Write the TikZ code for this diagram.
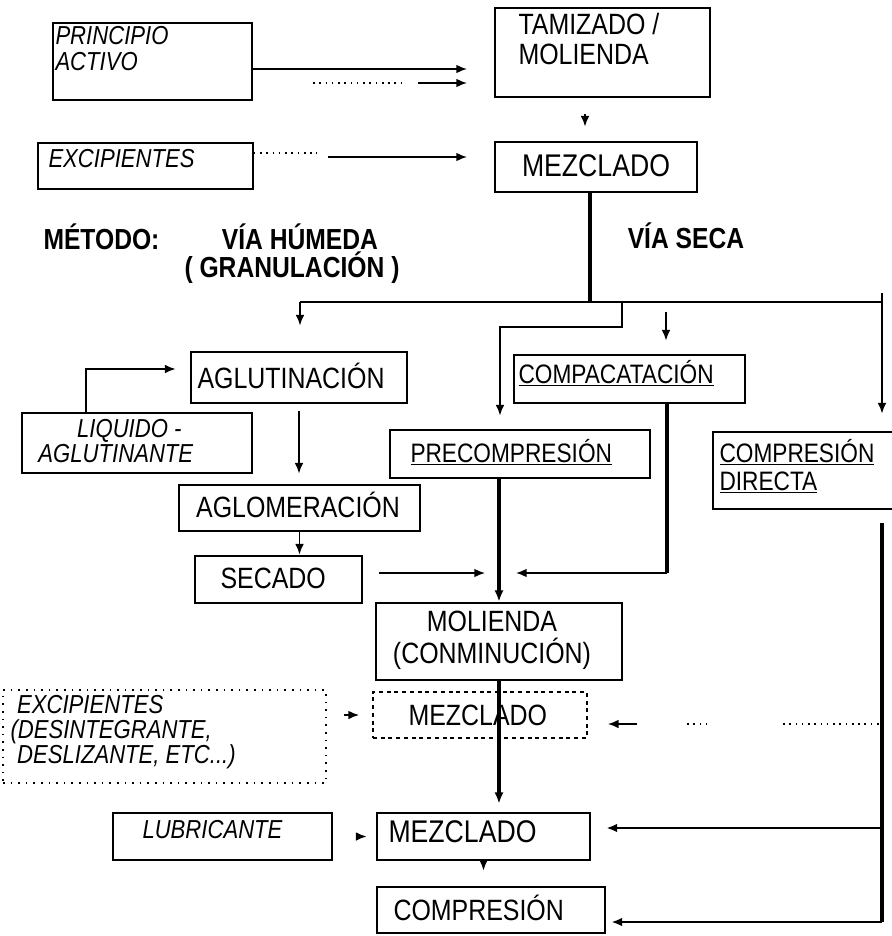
\documentclass[tikz,border=0pt]{standalone}
\usepackage{fontspec}
\setmainfont{Liberation Sans}[FakeStretch=0.85]
\usetikzlibrary{arrows.meta,fit}

\tikzset{
	box/.style={draw, inner sep=0pt, line width=2.1pt},
	thinbox/.style={draw, inner sep=0pt, line width=1.2pt},
	dotbox/.style={draw, inner sep=0pt, line width=1.3pt, dash pattern=on 1.2pt off 4.5pt},
	dashbox/.style={draw, inner sep=0pt, line width=1.4pt, dash pattern=on 3pt off 2.8pt},
	txt/.style={inner sep=0pt, font=\fontsize{22}{22.5}\selectfont},
	itxt/.style={inner sep=0pt, font=\itshape\fontsize{19.5}{19.5}\selectfont},
	utxt/.style={inner sep=0pt, font=\fontsize{20}{21}\selectfont},
	btxt/.style={inner sep=0pt, font=\bfseries\fontsize{21.75}{23}\selectfont},
	arr/.style={-{Latex[length=8pt,width=6.5pt]}, line width=1.2pt},
	thickarr/.style={-{Latex[length=8.5pt,width=7pt]}, line width=2.3pt},
	heavyline/.style={line width=2.3pt},
	dotline/.style={line width=1.2pt, dash pattern=on 1.2pt off 3.5pt}}
\tikzset{every picture/.style={line width=0.75pt}}

\begin{document}
\begin{tikzpicture}[x=0.75pt,y=0.75pt,yscale=-1,xscale=1]
	\useasboundingbox (0,0) rectangle (892,936);

	%Shape: Rectangle
	\node [thinbox, fit={(53,23) (252,100)}] (pa) {};
	%Shape: Rectangle
	\node [box, fit={(495,8) (710,97)}] (tm) {};
	%Shape: Rectangle
	\node [thinbox, fit={(38,143) (253,189)}] (ex) {};
	%Shape: Rectangle
	\node [box, fit={(495,142) (697,192)}] (mz1) {};
	%Shape: Rectangle
	\node [box, fit={(191,352) (407,403)}] (ag) {};
	%Shape: Rectangle
	\node [thinbox, fit={(22,413) (252,473)}] (lq) {};
	%Shape: Rectangle
	\node [box, fit={(514,355) (745,403)}] (cp) {};
	%Shape: Rectangle
	\node [box, fit={(390,430) (650,478)}] (pc) {};
	%Shape: Rectangle
	\node [box, fit={(713,432) (905,509)}] (cd) {};
	%Shape: Rectangle
	\node [box, fit={(179,485) (420,531)}] (ao) {};
	%Shape: Rectangle
	\node [box, fit={(195,556) (362,603)}] (sc) {};
	%Shape: Rectangle
	\node [box, fit={(376,603) (622,680)}] (ml) {};
	%Shape: Rectangle
	\node [dotbox, fit={(3,690) (326,783)}] (exd) {};
	%Shape: Rectangle
	\node [dashbox, fit={(373,692) (587,738)}] (mzd) {};
	%Shape: Rectangle
	\node [thinbox, fit={(113,813) (332,860)}] (lb) {};
	%Shape: Rectangle
	\node [box, fit={(377,813) (590,860)}] (mz2) {};
	%Shape: Rectangle
	\node [box, fit={(377,887) (605,933)}] (co) {};

	% Text Node
	\node [itxt, anchor=west, align=left] (paT) at (55,49) {PRINCIPIO\\ACTIVO};
	% Text Node
	\node [txt, anchor=west, align=left, font=\fontsize{22}{22.5}\selectfont] (tmT) at (518,39) {TAMIZADO /\\MOLIENDA};
	% Text Node
	\node [itxt, anchor=west] (exT) at (48,159) {EXCIPIENTES};
	% Text Node
	\node [txt, font=\fontsize{23.5}{24}\selectfont] (mz1T) at (596,166) {MEZCLADO};
	% Text Node
	\node [btxt, anchor=west] (metT) at (43,237) {MÉTODO:};
	% Text Node
	\node [btxt] (humT) at (300,237) {VÍA HÚMEDA};
	% Text Node
	\node [btxt] (graT) at (292,268) {( GRANULACIÓN )};
	% Text Node
	\node [btxt] (secT) at (686,236) {VÍA SECA};
	% Text Node
	\node [txt, anchor=west] (agT) at (197,376) {AGLUTINACIÓN};
	% Text Node
	\node [itxt, anchor=west, align=left, font=\itshape\fontsize{19.5}{18.75}\selectfont] (lqT) at (38,441.5) {\hspace*{29pt}LIQUIDO -\\AGLUTINANTE};
	% Text Node
	\node [utxt, anchor=west] (cpT) at (518,373) {\underline{COMPACATACIÓN}};
	% Text Node
	\node [utxt, anchor=west] (pcT) at (410,452) {\underline{PRECOMPRESIÓN}};
	% Text Node
	\node [utxt, anchor=west, align=left] (cdT) at (719,466) {\underline{COMPRESIÓN}\\\underline{DIRECTA}};
	% Text Node
	\node [txt] (aoT) at (298,505) {AGLOMERACIÓN};
	% Text Node
	\node [txt, anchor=west] (scT) at (220,578) {SECADO};
	% Text Node
	\node [txt, align=center, font=\fontsize{22}{24}\selectfont] (mlT) at (492,640) {MOLIENDA\\(CONMINUCIÓN)};
	% Text Node
	\node [itxt, anchor=west, align=left, font=\itshape\fontsize{19.5}{18.75}\selectfont] (exdT) at (10,732) {\hspace*{5pt}EXCIPIENTES\\(DESINTEGRANTE,\\\hspace*{5pt}DESLIZANTE, ETC...)};
	% Text Node
	\node [txt, anchor=west] (mzdT) at (408,715) {MEZCLADO};
	% Text Node
	\node [itxt, anchor=west] (lbT) at (142,830) {LUBRICANTE};
	% Text Node
	\node [txt, anchor=west, font=\fontsize{23.5}{24}\selectfont] (mz2T) at (388,832) {MEZCLADO};
	% Text Node
	\node [txt, anchor=west] (coT) at (393,908) {COMPRESIÓN};

	%Straight Lines
	\coordinate (p1) at (467,69);
	\draw [arr] (pa.east |- p1) -- (p1);
	\coordinate (p2) at (313,83);
	\coordinate (p3) at (403,83);
	\coordinate (p4) at (418,83);
	\draw [dotline] (p2) -- (p3);
	\draw [arr] (p4) -- (p4 -| p1);
	\coordinate (t1) at (585,120);
	\draw [arr, shorten <=12pt, shorten >=10.5pt] (t1 |- tm.south) -- (t1 |- mz1.north);
	\coordinate (e1) at (317,153);
	\coordinate (e2) at (328,157);
	\draw [dotline] (ex.east |- e1) -- (e1);
	\draw [arr] (e2) -- (e2 -| p1);

	%Branches
	\coordinate (j1) at (590,302);
	\coordinate (h1) at (300,302);
	\coordinate (h2) at (882,302);
	\coordinate (h3) at (882,293);
	\draw [heavyline] (mz1.south -| j1) -- (j1);
	\draw [line width=1.6pt] (h1) -- (h2);
	\draw [arr, shorten >=18.75pt] (h1) -- (h1 |- ag.north);
	\draw [arr, shorten >=12.75pt] (h3) -- (h3 |- cd.north);
	\coordinate (b1) at (622,302);
	\coordinate (b2) at (500,327);
	\draw [arr, shorten >=9.75pt] (b1) |- (b2) -- (b2 |- pc.north);
	\coordinate (k1) at (666,312);
	\draw [arr, shorten >=9.75pt] (k1) -- (k1 |- cp.north);

	%Wet route
	\coordinate (l1) at (86,369);
	\draw [arr, shorten >=10.5pt] (lq.north -| l1) |- (ag.west |- l1);
	\draw [arr, shorten <=5.25pt, shorten >=7.5pt] (ag.south) -- (ag.south |- ao.north);
	\draw [arr] (ao.south) -- (ao.south |- sc.north);
	\coordinate (s1) at (485,573);
	\draw [arr, shorten <=12pt] (sc.east |- s1) -- (s1);

	%Dry route
	\draw [thickarr] (pc.south -| ml.north) -- (ml.north);
	\coordinate (c1) at (667,573);
	\coordinate (c2) at (516,573);
	\draw [heavyline] (cp.south -| c1) -- (c1);
	\draw [arr] (c1) -- (c2);

	%Final mixing
	\draw [arr, shorten <=12.75pt, shorten >=9.75pt] (exd.east |- mzd.west) -- (mzd.west);
	\coordinate (r1) at (637,724);
	\coordinate (r2) at (687,724);
	\coordinate (r3) at (712,724);
	\coordinate (r4) at (783,724);
	\coordinate (r5) at (880,724);
	\draw [arr, shorten >=15pt] (r1) -- (r1 -| mzd.east);
	\draw [dotline] (r2) -- (r3);
	\draw [dotline] (r4) -- (r5);
	\draw [thickarr, shorten >=6pt] (ml.south) -- (ml.south |- mz2.north);
	\coordinate (v1) at (882,523);
	\coordinate (v2) at (882,922);
	\coordinate (v3) at (882,828);
	\draw [heavyline] (v1) -- (v2);
	\draw [arr, line width=1.7pt, shorten >=11.25pt] (v3) -- (v3 -| mz2.east);
	\draw [arr, line width=1.7pt, shorten >=3.75pt] (v2) -- (v2 -| co.east);
	\draw [arr, shorten <=18pt, shorten >=6.75pt] (lb.east) -- (lb.east -| mz2.west);
	\draw [arr, shorten >=11.25pt] (mz2.south) -- (mz2.south |- co.north);

\end{tikzpicture}
\end{document}
